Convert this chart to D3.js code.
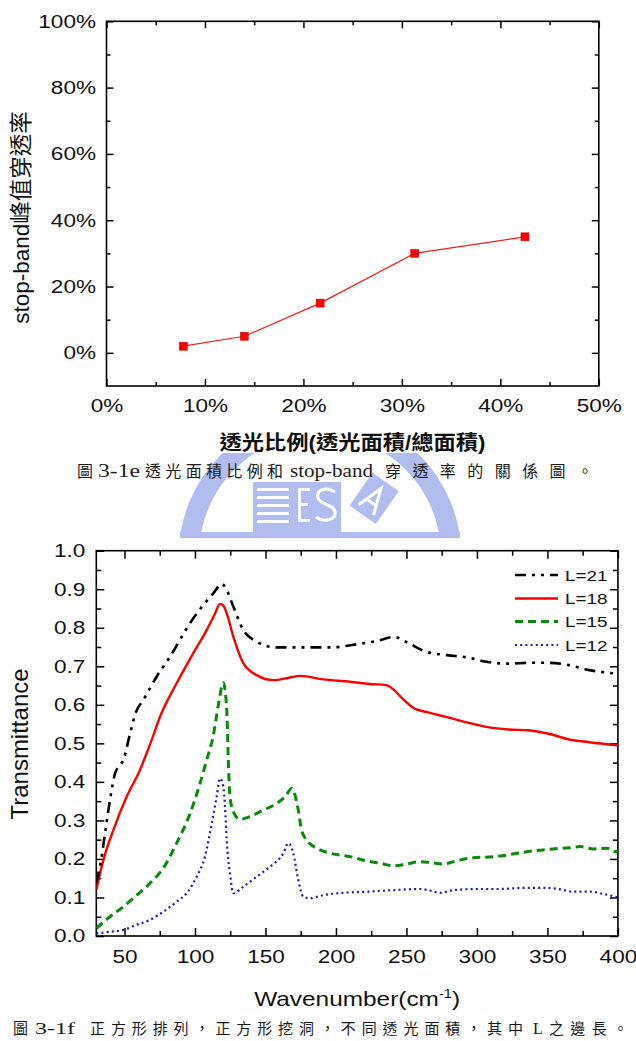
<!DOCTYPE html>
<html><head><meta charset="utf-8">
<script src="https://cdn.jsdelivr.net/npm/d3@7"></script>
<style>
html,body{margin:0;padding:0;background:#fff;}
svg{display:block;}
</style></head><body>
<svg id="c" width="636" height="1041"></svg>
<script>
// ---------- Data: chart 1 (圖 3-1e) ----------
const openRatio = [7.8, 14.0, 21.7, 31.3, 42.5];   // 透光比例 (%)
const peakTrans = [2, 5, 15, 30, 35];              // stop-band 峰值穿透率 (%)
const pctTicksX = [0, 10, 20, 30, 40, 50];
const pctMinorX = [5, 15, 25, 35, 45];
const pctTicksY = [0, 20, 40, 60, 80, 100];
const pctMinorY = [10, 30, 50, 70, 90];

// ---------- Data: chart 2 (圖 3-1f) ----------
const wnL21 = [30, 32.6, 36.2, 39.7, 43.3, 46, 49.2, 54, 58, 63.4, 72.8, 82.3, 96.5, 105.9, 113, 119, 122.5, 127.2, 134.3, 143.8, 158, 176.8, 195.8, 214.7, 228, 241.4, 250, 264.5, 278.9, 293.3, 307.7, 322.1, 336.5, 350.9, 365.4, 379.8, 400];
const trL21 = [0.14, 0.18, 0.267, 0.353, 0.422, 0.44, 0.457, 0.526, 0.58, 0.613, 0.673, 0.725, 0.812, 0.859, 0.889, 0.914, 0.898, 0.855, 0.794, 0.764, 0.749, 0.749, 0.749, 0.757, 0.765, 0.776, 0.763, 0.737, 0.729, 0.723, 0.711, 0.707, 0.709, 0.709, 0.703, 0.69, 0.681];

const wnL18 = [30, 35, 42.1, 51.6, 61, 69.3, 75.2, 87, 98.8, 108.3, 114, 117.8, 120, 122.5, 127.2, 134.3, 143.8, 155.6, 167.4, 174.5, 191, 210, 224, 235.6, 241.4, 247.2, 255.8, 264.5, 278.9, 293.3, 307.7, 322.1, 336.5, 350.9, 365.4, 379.8, 400];
const trL18 = [0.12, 0.197, 0.275, 0.362, 0.431, 0.509, 0.569, 0.656, 0.734, 0.794, 0.835, 0.862, 0.858, 0.838, 0.777, 0.708, 0.677, 0.664, 0.671, 0.675, 0.666, 0.66, 0.654, 0.651, 0.638, 0.616, 0.59, 0.581, 0.568, 0.554, 0.542, 0.536, 0.534, 0.525, 0.51, 0.503, 0.495];

const wnL15 = [30, 39.7, 49.2, 58.7, 68.1, 77.5, 87, 96.5, 103.6, 108.3, 113, 116.6, 120.1, 122.5, 123.6, 124.8, 127.2, 131.9, 139, 148.5, 158, 164, 168.6, 173.3, 175.6, 179.2, 186.3, 195.8, 210, 224.2, 231.2, 240.7, 250.2, 259.6, 267.9, 276.2, 285.6, 295.1, 311.7, 321.1, 330.6, 340, 354.2, 366.1, 373.2, 382.6, 392.1, 398, 400];
const trL15 = [0.02, 0.05, 0.076, 0.106, 0.137, 0.176, 0.241, 0.318, 0.396, 0.457, 0.52, 0.6, 0.657, 0.59, 0.46, 0.362, 0.323, 0.303, 0.31, 0.327, 0.344, 0.362, 0.383, 0.327, 0.275, 0.249, 0.228, 0.215, 0.206, 0.193, 0.189, 0.182, 0.187, 0.193, 0.19, 0.187, 0.195, 0.202, 0.206, 0.21, 0.216, 0.221, 0.226, 0.229, 0.232, 0.226, 0.228, 0.219, 0.22];

const wnL12 = [30, 39.7, 49.2, 58.7, 68.1, 77.5, 87, 94.1, 101.2, 107.1, 111.9, 115.4, 117.8, 120.1, 121.3, 122.5, 124.8, 127.2, 134.3, 143.8, 153.2, 162.7, 166.2, 169.7, 173.3, 176.8, 181.5, 191, 205.2, 221.8, 240.7, 259.6, 266.7, 273.8, 283.3, 299.8, 316.4, 333, 349.5, 359, 368.4, 380.3, 389.8, 398, 400];
const trL12 = [0.007, 0.011, 0.016, 0.029, 0.042, 0.063, 0.089, 0.111, 0.154, 0.206, 0.292, 0.362, 0.409, 0.388, 0.336, 0.249, 0.163, 0.111, 0.128, 0.154, 0.18, 0.215, 0.241, 0.215, 0.145, 0.102, 0.098, 0.106, 0.112, 0.115, 0.119, 0.122, 0.118, 0.112, 0.119, 0.122, 0.122, 0.125, 0.125, 0.121, 0.115, 0.115, 0.109, 0.102, 0.1];

const seriesNames = ["L=21", "L=18", "L=15", "L=12"];
const wnTicks = [50, 100, 150, 200, 250, 300, 350, 400];
const wnMinor = [75, 125, 175, 225, 275, 325, 375];
const trTicks = [0, 0.1, 0.2, 0.3, 0.4, 0.5, 0.6, 0.7, 0.8, 0.9, 1.0];
const trMinor = [0.05, 0.15, 0.25, 0.35, 0.45, 0.55, 0.65, 0.75, 0.85, 0.95];

// caption pieces
const caption1 = ["圖", "3-1e", "透光面積比例和", "stop-band", "穿透率的關係圖。"];
const caption2 = ["圖", "3-1f", "正方形排列，正方形挖洞，不同透光面積，其中", "L", "之邊長。"];

// ---------- helpers ----------
const K = 1.22; // horizontal stretch of the original raster text
const SANS = "'Liberation Sans', Arial, 'Noto Sans CJK TC', sans-serif";
const SERIF = "'Liberation Serif', 'Noto Sans CJK TC', serif";
const svg = d3.select("#c");

function styleAxis(g, fs) {
  g.attr("font-family", SANS).attr("font-size", fs);
  g.select(".domain").remove();
  g.selectAll(".tick line").attr("stroke", "#000").attr("stroke-width", 1.5);
  g.selectAll(".tick text").attr("fill", "#111").each(function () {
    const t = d3.select(this);
    const x = +t.attr("x") || 0;
    t.attr("x", x / K).attr("transform", `scale(${K},1)`);
  });
}
function boxAxes(g, x, y, xt, xm, yt, ym, xfmt, yfmt, fs, padX, padY, major, minor) {
  const [x0, x1] = x.range(), [y0, y1] = y.range();
  g.append("g").attr("transform", `translate(0,${y0})`)
    .call(d3.axisBottom(x).tickValues(xt).tickFormat(xfmt).tickSizeInner(-major).tickSizeOuter(0).tickPadding(padX))
    .call(s => styleAxis(s, fs));
  g.append("g").attr("transform", `translate(0,${y0})`)
    .call(d3.axisBottom(x).tickValues(xm).tickFormat("").tickSizeInner(-minor).tickSizeOuter(0))
    .call(s => styleAxis(s, fs));
  g.append("g").attr("transform", `translate(0,${y1})`)
    .call(d3.axisTop(x).tickValues(xt).tickFormat("").tickSizeInner(-major).tickSizeOuter(0))
    .call(s => styleAxis(s, fs));
  g.append("g").attr("transform", `translate(0,${y1})`)
    .call(d3.axisTop(x).tickValues(xm).tickFormat("").tickSizeInner(-minor).tickSizeOuter(0))
    .call(s => styleAxis(s, fs));
  g.append("g").attr("transform", `translate(${x0},0)`)
    .call(d3.axisLeft(y).tickValues(yt).tickFormat(yfmt).tickSizeInner(-major).tickSizeOuter(0).tickPadding(padY))
    .call(s => styleAxis(s, fs));
  g.append("g").attr("transform", `translate(${x0},0)`)
    .call(d3.axisLeft(y).tickValues(ym).tickFormat("").tickSizeInner(-minor).tickSizeOuter(0))
    .call(s => styleAxis(s, fs));
  g.append("g").attr("transform", `translate(${x1},0)`)
    .call(d3.axisRight(y).tickValues(yt).tickFormat("").tickSizeInner(-major).tickSizeOuter(0))
    .call(s => styleAxis(s, fs));
  g.append("g").attr("transform", `translate(${x1},0)`)
    .call(d3.axisRight(y).tickValues(ym).tickFormat("").tickSizeInner(-minor).tickSizeOuter(0))
    .call(s => styleAxis(s, fs));
  g.append("rect").attr("x", x0).attr("y", y1).attr("width", x1 - x0).attr("height", y0 - y1)
    .attr("fill", "none").attr("stroke", "#000").attr("stroke-width", 1.6);
}
function stretchedText(g, txt, cx, cy, fs, weight, anchor) {
  return g.append("text").attr("transform", `translate(${cx},${cy}) scale(${K},1)`)
    .attr("font-family", SANS).attr("font-size", fs).attr("font-weight", weight || "normal")
    .attr("text-anchor", anchor || "middle").attr("fill", "#111").text(txt);
}
// caption: pieces placed at [x, width]; latin pieces are stretched, CJK pieces spaced
function caption(pieces, spans, y, fsL, fsC) {
  const g = svg.append("g").attr("fill", "#1a1a1a");
  pieces.forEach((p, i) => {
    const latin = /^[\x00-\x7f]+$/.test(p);
    g.append("text").attr("x", spans[i][0]).attr("y", y)
      .attr("font-family", latin ? SERIF : "'Noto Sans CJK TC', sans-serif")
      .attr("font-size", latin ? fsL : fsC)
      .attr("textLength", spans[i][1])
      .attr("lengthAdjust", latin ? "spacingAndGlyphs" : "spacing")
      .text(p);
  });
}

// ---------- watermark (faint logo between the figures) ----------
svg.append("defs").append("clipPath").attr("id", "wmclip")
  .append("rect").attr("x", 0).attr("y", 453).attr("width", 636).attr("height", 85);
const wm = svg.append("g").attr("clip-path", "url(#wmclip)").attr("fill", "#b1bdee");
wm.append("path").attr("transform", "translate(320,555)")
  .attr("d", d3.arc()({ innerRadius: 121, outerRadius: 141, startAngle: -Math.PI / 2, endAngle: Math.PI / 2 }));
wm.append("rect").attr("x", 180).attr("y", 532).attr("width", 280).attr("height", 6);
wm.append("rect").attr("x", 253).attr("y", 482).attr("width", 88).attr("height", 50);
[488, 496, 504, 512, 520].forEach(yy => wm.append("rect").attr("x", 257).attr("y", yy).attr("width", 32).attr("height", 3).attr("fill", "#fff"));
wm.append("rect").attr("x", 298).attr("y", 488).attr("width", 3).attr("height", 34).attr("fill", "#fff");
wm.append("rect").attr("x", 298).attr("y", 488).attr("width", 12).attr("height", 3).attr("fill", "#fff");
wm.append("rect").attr("x", 298).attr("y", 503).attr("width", 10).attr("height", 3).attr("fill", "#fff");
wm.append("rect").attr("x", 298).attr("y", 519).attr("width", 12).attr("height", 3).attr("fill", "#fff");
wm.append("path").attr("d", "M335,492 C326,486 316,490 318,498 C320,505 334,504 335,512 C336,520 324,523 316,517")
  .attr("fill", "none").attr("stroke", "#fff").attr("stroke-width", 3);
wm.append("g").attr("transform", "translate(373,500) rotate(35)").call(s => {
  s.append("rect").attr("x", -16).attr("y", -22).attr("width", 32).attr("height", 40);
  s.append("path").attr("d", "M-9,12 L0,-14 L9,12 M-5,3 L5,3").attr("fill", "none").attr("stroke", "#fff").attr("stroke-width", 3);
});

// ---------- Chart 1 ----------
const g1 = svg.append("g");
const xA = d3.scaleLinear().domain([0, 50]).range([106.5, 598.8]);
const yA = d3.scaleLinear().domain([-10, 100]).range([386, 21.3]);
boxAxes(g1, xA, yA, pctTicksX, pctMinorX, pctTicksY, pctMinorY, d => d + "%", d => d + "%", 18.5, 12.5, 10.5, 7, 4);

const pts1 = d3.zip(openRatio, peakTrans);
g1.append("path").datum(pts1)
  .attr("d", d3.line().x(d => xA(d[0])).y(d => yA(d[1])))
  .attr("fill", "none").attr("stroke", "#ff1a1a").attr("stroke-width", 1.2);
g1.selectAll("rect.m").data(pts1).join("rect").attr("class", "m")
  .attr("x", d => xA(d[0]) - 4).attr("y", d => yA(d[1]) - 4)
  .attr("width", 8).attr("height", 8).attr("fill", "#f00").attr("stroke", "#c00").attr("stroke-width", 0.5);

g1.append("text").attr("x", 219.5).attr("y", 450).attr("textLength", 266).attr("lengthAdjust", "spacingAndGlyphs")
  .attr("font-family", SANS).attr("font-size", 20).attr("font-weight", "bold").attr("fill", "#111")
  .text("透光比例(透光面積/總面積)");
g1.append("text").attr("transform", "translate(20.5,217.5) rotate(-90)").attr("dy", "0.36em")
  .attr("font-family", SANS).attr("font-size", 22.5).attr("text-anchor", "middle").attr("fill", "#111")
  .text("stop-band峰值穿透率");

caption(caption1, [[77, 15], [98, 42], [145, 138], [290, 83], [385, 208]], 477, 18, 16);

// ---------- Chart 2 ----------
const g2 = svg.append("g");
const xB = d3.scaleLinear().domain([30, 400]).range([96.3, 617.9]);
const yB = d3.scaleLinear().domain([0, 1]).range([936, 550.7]);
boxAxes(g2, xB, yB, wnTicks, wnMinor, trTicks, trMinor, d => d, d3.format(".1f"), 18.5, 13.5, 11, 8, 5);

g2.append("defs").append("clipPath").attr("id", "pclip")
  .append("rect").attr("x", xB.range()[0]).attr("y", yB.range()[1])
  .attr("width", xB.range()[1] - xB.range()[0]).attr("height", yB.range()[0] - yB.range()[1]);

const series = [
  { name: seriesNames[0], wn: wnL21, tr: trL21, color: "#000", width: 2.6, dash: "11,6,3,6,3,6" },
  { name: seriesNames[1], wn: wnL18, tr: trL18, color: "#ff0000", width: 2.4, dash: null },
  { name: seriesNames[2], wn: wnL15, tr: trL15, color: "#0a8a0a", width: 3, dash: "8,5" },
  { name: seriesNames[3], wn: wnL12, tr: trL12, color: "#1c1ca8", width: 2.2, dash: "2,3.2" }
];
const lineB = d3.line().x(d => xB(d[0])).y(d => yB(d[1])).curve(d3.curveMonotoneX);
const plotG = g2.append("g").attr("clip-path", "url(#pclip)");
series.slice().reverse().forEach(s => {
  plotG.append("path").datum(d3.zip(s.wn, s.tr)).attr("d", lineB)
    .attr("fill", "none").attr("stroke", s.color).attr("stroke-width", s.width)
    .attr("stroke-dasharray", s.dash).attr("stroke-linejoin", "round");
});

// legend
const legY = [575, 598.5, 621.5, 645];
series.forEach((s, i) => {
  g2.append("line").attr("x1", 515).attr("x2", 558).attr("y1", legY[i]).attr("y2", legY[i])
    .attr("stroke", s.color).attr("stroke-width", s.width).attr("stroke-dasharray", s.dash);
  stretchedText(g2, s.name, 565, legY[i] + 5.6, 15.5, "normal", "start");
});

// axis titles
const wt = stretchedText(g2, "", (xB.range()[0] + xB.range()[1]) / 2, 1006, 20);
wt.append("tspan").text("Wavenumber(cm");
wt.append("tspan").attr("font-size", 12).attr("dy", -8).text("-1");
wt.append("tspan").attr("dy", 8).text(")");
g2.append("text").attr("transform", "translate(19,744) rotate(-90)").attr("dy", "0.36em")
  .attr("font-family", SANS).attr("font-size", 24).attr("text-anchor", "middle").attr("fill", "#111")
  .text("Transmittance");

caption(caption2, [[13, 15], [35, 40], [90, 433], [533, 10], [549, 79]], 1034, 17, 15);
</script>
</body></html>
